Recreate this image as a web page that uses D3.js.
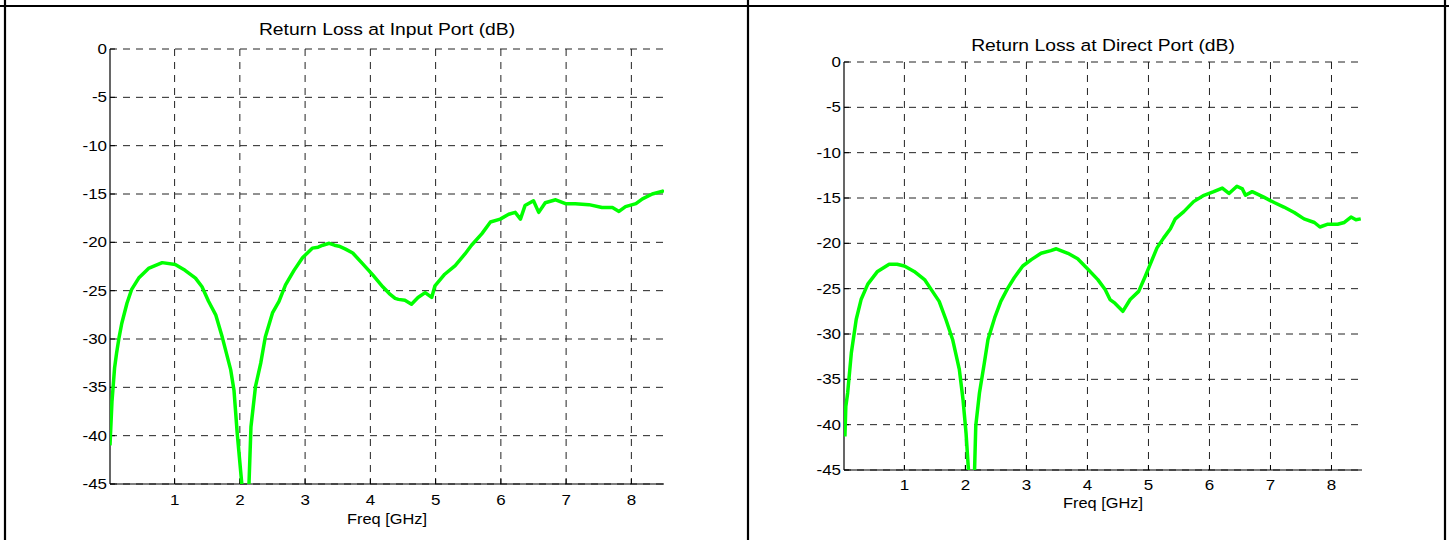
<!DOCTYPE html>
<html>
<head>
<meta charset="utf-8">
<script src="https://cdn.jsdelivr.net/npm/d3@7"></script>
<style>
    body { margin: 0; background: #fff; }
    svg { display: block; font-family: "Liberation Sans", Arial, sans-serif; }
    .grid line { stroke: #222; stroke-width: 1; stroke-dasharray: 7,6; }
    .axis-line { stroke: #000; stroke-width: 1.2; }
    .tick-mark { stroke: #000; stroke-width: 1; }
    .trace { fill: none; stroke: #00ff00; stroke-width: 3.5; stroke-linejoin: round; }
    .border { stroke: #000; stroke-width: 2.2; }
</style>
</head>
<body>
<svg id="chart" width="1449" height="540"></svg>
<script>

// Data ////////////////////////////////////

const freqTicks = [1, 2, 3, 4, 5, 6, 7, 8];
const lossTicks = [0, -5, -10, -15, -20, -25, -30, -35, -40, -45];

const inputFreq = [0.01, 0.04, 0.08, 0.11, 0.15, 0.19, 0.27, 0.34, 0.45, 0.6, 0.81, 1.01, 1.16, 1.32, 1.42,
    1.52, 1.63, 1.73, 1.86, 1.91, 1.96, 2.03, 2.085, 2.14, 2.17, 2.24, 2.32, 2.39, 2.5, 2.6, 2.7, 2.83,
    2.96, 3.11, 3.2, 3.27, 3.37, 3.45, 3.52, 3.62, 3.73, 3.88, 4.04, 4.19, 4.29, 4.38, 4.43, 4.53, 4.63,
    4.73, 4.84, 4.94, 4.99, 5.14, 5.3, 5.45, 5.55, 5.71, 5.84, 5.99, 6.12, 6.22, 6.3, 6.37, 6.5, 6.58,
    6.68, 6.84, 6.99, 7.14, 7.35, 7.55, 7.71, 7.81, 7.91, 8.07, 8.17, 8.32, 8.48, 8.5];
const inputLoss = [-41, -36.5, -33, -31.5, -29.8, -28.4, -26.3, -24.9, -23.7, -22.7, -22.1, -22.3, -22.9, -23.7, -24.6,
    -26.1, -27.5, -29.8, -33.2, -35.3, -39.8, -45, -50, -45, -39.1, -34.9, -32.5, -29.8, -27.3, -26.1, -24.4, -22.9,
    -21.6, -20.6, -20.5, -20.3, -20.1, -20.3, -20.4, -20.7, -21.1, -22.2, -23.4, -24.6, -25.3, -25.8, -25.9, -26.0, -26.4,
    -25.7, -25.2, -25.7, -24.5, -23.3, -22.4, -21.2, -20.3, -19.1, -17.9, -17.6, -17.1, -16.9, -17.6, -16.2, -15.7, -16.9,
    -15.9, -15.6, -16.0, -16.0, -16.1, -16.4, -16.4, -16.8, -16.3, -16.0, -15.5, -15.0, -14.7, -14.8];

const directFreq = [0.025, 0.04, 0.07, 0.13, 0.21, 0.29, 0.4, 0.56, 0.75, 0.88, 1.0, 1.16, 1.33, 1.46, 1.57,
    1.68, 1.79, 1.9, 1.96, 2.01, 2.05, 2.1, 2.15, 2.17, 2.23, 2.31, 2.37, 2.48, 2.58, 2.69, 2.8, 2.94,
    3.08, 3.24, 3.4, 3.49, 3.68, 3.84, 4.0, 4.17, 4.29, 4.37, 4.45, 4.58, 4.7, 4.84, 4.95, 5.03, 5.14,
    5.25, 5.36, 5.44, 5.58, 5.74, 5.91, 6.07, 6.21, 6.32, 6.45, 6.54, 6.59, 6.7, 6.89, 7.06, 7.22, 7.39,
    7.55, 7.72, 7.81, 7.93, 8.1, 8.21, 8.32, 8.4, 8.48];
const directLoss = [-41.3, -38, -36.5, -32.1, -28.4, -26.2, -24.5, -23.1, -22.3, -22.3, -22.5, -23.1, -24.0, -25.3, -26.4,
    -28.4, -30.6, -33.9, -37.2, -40.9, -45, -49, -45, -40.1, -36.5, -33.2, -30.6, -28.2, -26.4, -25.0, -23.8, -22.5,
    -21.8, -21.1, -20.8, -20.6, -21.1, -21.7, -22.8, -24.0, -25.1, -26.2, -26.6, -27.5, -26.2, -25.3, -23.6, -22.3, -20.5,
    -19.4, -18.4, -17.3, -16.5, -15.4, -14.7, -14.3, -13.9, -14.5, -13.7, -14.0, -14.7, -14.3, -14.9, -15.5, -16.0, -16.6,
    -17.3, -17.7, -18.2, -17.9, -17.9, -17.7, -17.1, -17.4, -17.3];

// Layout ////////////////////////////////////

const svg = d3.select("#chart");
const textStretch = 1.17;

const panels = [
    { id: "input", title: "Return Loss at Input Port (dB)", freq: inputFreq, loss: inputLoss,
      x0: 110, x1: 664, y0: 49, y1: 484, titleY: 34.5, tickY: 504.5, labelY: 524 },
    { id: "direct", title: "Return Loss at Direct Port (dB)", freq: directFreq, loss: directLoss,
      x0: 844, x1: 1362, y0: 62, y1: 470, titleY: 50.5, tickY: 489.5, labelY: 508 }
];

// Table borders

svg.append("line").attr("class", "border").attr("x1", 0).attr("x2", 1449).attr("y1", 6).attr("y2", 6);
[5, 748, 1445].forEach(x => {
    svg.append("line").attr("class", "border")
        .attr("x1", x).attr("x2", x).attr("y1", 0).attr("y2", 540);
});

panels.forEach(drawPanel);

function stretchedText(g, x, y, txt, size, anchor) {
    return g.append("text")
        .attr("transform", `translate(${ x },${ y }) scale(${ textStretch },1)`)
        .attr("text-anchor", anchor)
        .attr("font-size", size)
        .attr("fill", "#000")
        .text(txt);
}

function drawPanel(p) {

    const x = d3.scaleLinear().domain([0.01, 8.5]).range([p.x0, p.x1]);
    const y = d3.scaleLinear().domain([-45, 0]).range([p.y1, p.y0]);

    const g = svg.append("g").attr("class", "panel " + p.id);

    // Grid lines

    const grid = g.append("g").attr("class", "grid");

    grid.selectAll(".hgrid")
        .data(lossTicks)
        .join("line")
        .attr("x1", p.x0).attr("x2", p.x1)
        .attr("y1", d => y(d)).attr("y2", d => y(d));

    grid.selectAll(".vgrid")
        .data(freqTicks)
        .join("line")
        .attr("x1", d => x(d)).attr("x2", d => x(d))
        .attr("y1", p.y0).attr("y2", p.y1);

    // Axes

    g.append("line").attr("class", "axis-line")
        .attr("x1", p.x0).attr("x2", p.x0).attr("y1", p.y0).attr("y2", p.y1);
    g.append("line").attr("class", "axis-line")
        .attr("x1", p.x0).attr("x2", p.x1).attr("y1", p.y1).attr("y2", p.y1);

    g.selectAll(".ytick")
        .data(lossTicks)
        .join("line")
        .attr("class", "tick-mark")
        .attr("x1", p.x0).attr("x2", p.x0 + 5)
        .attr("y1", d => y(d)).attr("y2", d => y(d));

    g.selectAll(".xtick")
        .data(freqTicks)
        .join("line")
        .attr("class", "tick-mark")
        .attr("x1", d => x(d)).attr("x2", d => x(d))
        .attr("y1", p.y1).attr("y2", p.y1 - 5);

    lossTicks.forEach(d => stretchedText(g, p.x0 - 3, y(d) + 5, d, 14.5, "end"));
    freqTicks.forEach(d => stretchedText(g, x(d), p.tickY, d, 14.5, "middle"));

    // Title and label

    stretchedText(g, (p.x0 + p.x1) / 2, p.titleY, p.title, 16.5, "middle");
    stretchedText(g, (p.x0 + p.x1) / 2, p.labelY, "Freq [GHz]", 14, "middle");

    // Trace

    g.append("clipPath")
        .attr("id", "clip-" + p.id)
        .append("rect")
        .attr("x", p.x0).attr("y", p.y0 - 2)
        .attr("width", p.x1 - p.x0).attr("height", p.y1 - p.y0 + 2);

    const points = d3.zip(p.freq, p.loss);

    const line = d3.line()
        .x(d => x(d[0]))
        .y(d => y(d[1]));

    g.append("path")
        .attr("class", "trace")
        .attr("clip-path", `url(#clip-${ p.id })`)
        .attr("d", line(points));
}
</script>
</body>
</html>
